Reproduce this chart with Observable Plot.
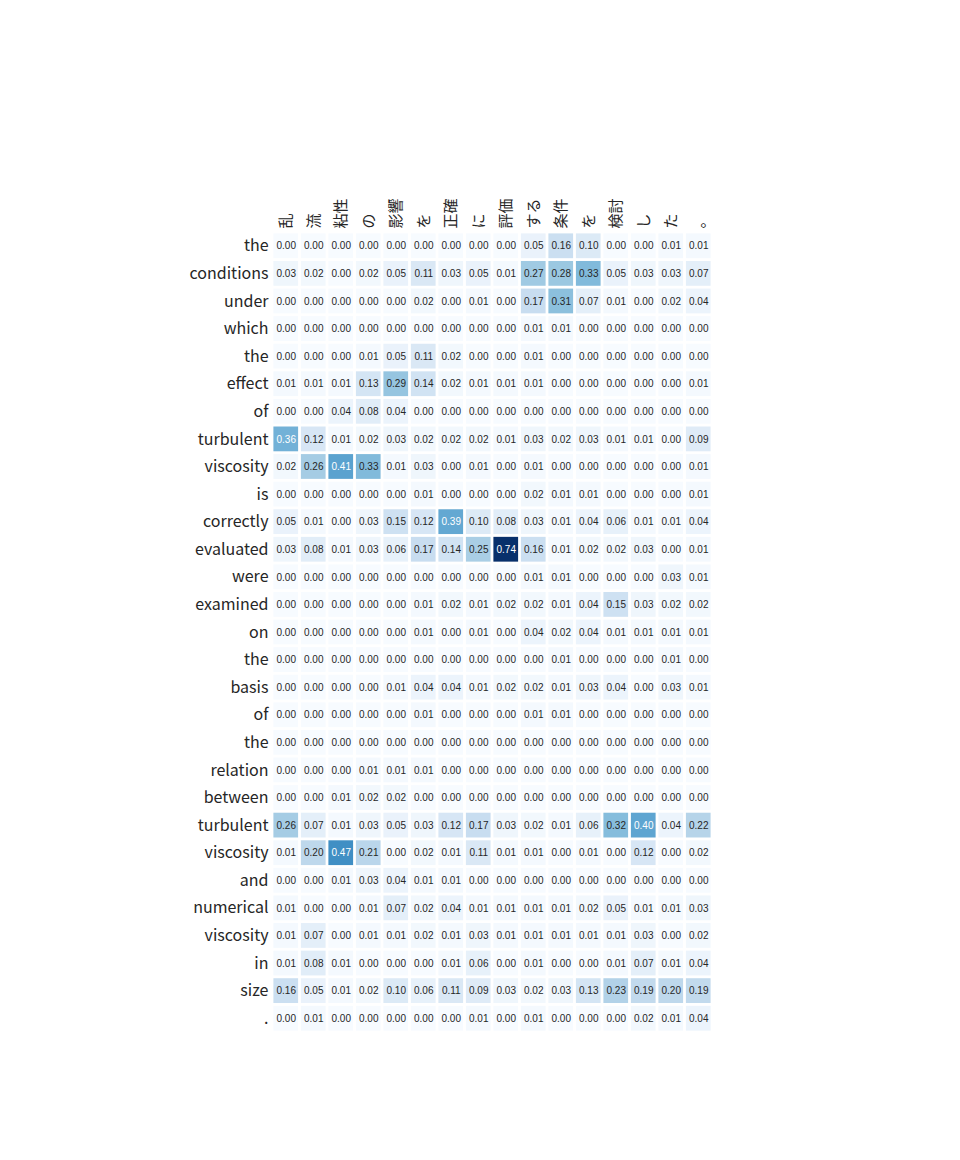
<!DOCTYPE html>
<html>
<head>
<meta charset="utf-8">
<script src="https://cdn.jsdelivr.net/npm/d3@7"></script>
<script src="https://cdn.jsdelivr.net/npm/@observablehq/plot@0.6"></script>
<style>
  html, body { margin: 0; padding: 0; background: #ffffff; }
  #chart { width: 960px; height: 1160px; }
</style>
</head>
<body>
<div id="chart"></div>
<script>
// Column tokens (Japanese)
const xLabels = ["乱", "流", "粘性", "の", "影響", "を", "正確", "に", "評価", "する", "条件", "を", "検討", "し", "た", "。"];
// Row tokens (English)
const yLabels = ["the", "conditions", "under", "which", "the", "effect", "of", "turbulent", "viscosity", "is",
  "correctly", "evaluated", "were", "examined", "on", "the", "basis", "of", "the", "relation",
  "between", "turbulent", "viscosity", "and", "numerical", "viscosity", "in", "size", "."];
// Attention weights, one row per English token
const weights = [
  [0.00,0.00,0.00,0.00,0.00,0.00,0.00,0.00,0.00,0.05,0.16,0.10,0.00,0.00,0.01,0.01],
  [0.03,0.02,0.00,0.02,0.05,0.11,0.03,0.05,0.01,0.27,0.28,0.33,0.05,0.03,0.03,0.07],
  [0.00,0.00,0.00,0.00,0.00,0.02,0.00,0.01,0.00,0.17,0.31,0.07,0.01,0.00,0.02,0.04],
  [0.00,0.00,0.00,0.00,0.00,0.00,0.00,0.00,0.00,0.01,0.01,0.00,0.00,0.00,0.00,0.00],
  [0.00,0.00,0.00,0.01,0.05,0.11,0.02,0.00,0.00,0.01,0.00,0.00,0.00,0.00,0.00,0.00],
  [0.01,0.01,0.01,0.13,0.29,0.14,0.02,0.01,0.01,0.01,0.00,0.00,0.00,0.00,0.00,0.01],
  [0.00,0.00,0.04,0.08,0.04,0.00,0.00,0.00,0.00,0.00,0.00,0.00,0.00,0.00,0.00,0.00],
  [0.36,0.12,0.01,0.02,0.03,0.02,0.02,0.02,0.01,0.03,0.02,0.03,0.01,0.01,0.00,0.09],
  [0.02,0.26,0.41,0.33,0.01,0.03,0.00,0.01,0.00,0.01,0.00,0.00,0.00,0.00,0.00,0.01],
  [0.00,0.00,0.00,0.00,0.00,0.01,0.00,0.00,0.00,0.02,0.01,0.01,0.00,0.00,0.00,0.01],
  [0.05,0.01,0.00,0.03,0.15,0.12,0.39,0.10,0.08,0.03,0.01,0.04,0.06,0.01,0.01,0.04],
  [0.03,0.08,0.01,0.03,0.06,0.17,0.14,0.25,0.74,0.16,0.01,0.02,0.02,0.03,0.00,0.01],
  [0.00,0.00,0.00,0.00,0.00,0.00,0.00,0.00,0.00,0.01,0.01,0.00,0.00,0.00,0.03,0.01],
  [0.00,0.00,0.00,0.00,0.00,0.01,0.02,0.01,0.02,0.02,0.01,0.04,0.15,0.03,0.02,0.02],
  [0.00,0.00,0.00,0.00,0.00,0.01,0.00,0.01,0.00,0.04,0.02,0.04,0.01,0.01,0.01,0.01],
  [0.00,0.00,0.00,0.00,0.00,0.00,0.00,0.00,0.00,0.00,0.01,0.00,0.00,0.00,0.01,0.00],
  [0.00,0.00,0.00,0.00,0.01,0.04,0.04,0.01,0.02,0.02,0.01,0.03,0.04,0.00,0.03,0.01],
  [0.00,0.00,0.00,0.00,0.00,0.01,0.00,0.00,0.00,0.01,0.01,0.00,0.00,0.00,0.00,0.00],
  [0.00,0.00,0.00,0.00,0.00,0.00,0.00,0.00,0.00,0.00,0.00,0.00,0.00,0.00,0.00,0.00],
  [0.00,0.00,0.00,0.01,0.01,0.01,0.00,0.00,0.00,0.00,0.00,0.00,0.00,0.00,0.00,0.00],
  [0.00,0.00,0.01,0.02,0.02,0.00,0.00,0.00,0.00,0.00,0.00,0.00,0.00,0.00,0.00,0.00],
  [0.26,0.07,0.01,0.03,0.05,0.03,0.12,0.17,0.03,0.02,0.01,0.06,0.32,0.40,0.04,0.22],
  [0.01,0.20,0.47,0.21,0.00,0.02,0.01,0.11,0.01,0.01,0.00,0.01,0.00,0.12,0.00,0.02],
  [0.00,0.00,0.01,0.03,0.04,0.01,0.01,0.00,0.00,0.00,0.00,0.00,0.00,0.00,0.00,0.00],
  [0.01,0.00,0.00,0.01,0.07,0.02,0.04,0.01,0.01,0.01,0.01,0.02,0.05,0.01,0.01,0.03],
  [0.01,0.07,0.00,0.01,0.01,0.02,0.01,0.03,0.01,0.01,0.01,0.01,0.01,0.03,0.00,0.02],
  [0.01,0.08,0.01,0.00,0.00,0.00,0.01,0.06,0.00,0.01,0.00,0.00,0.01,0.07,0.01,0.04],
  [0.16,0.05,0.01,0.02,0.10,0.06,0.11,0.09,0.03,0.02,0.03,0.13,0.23,0.19,0.20,0.19],
  [0.00,0.01,0.00,0.00,0.00,0.00,0.00,0.01,0.00,0.01,0.00,0.00,0.00,0.02,0.01,0.04]
];

const cells = [];
weights.forEach((row, r) => row.forEach((v, c) => cells.push({r, c, v})));
const vmax = d3.max(cells, d => d.v);

const labelFont = "'Noto Sans CJK JP', 'Noto Sans', sans-serif";

const chart = Plot.plot({
  width: 960,
  height: 1160,
  marginLeft: 272,
  marginRight: 248,
  marginTop: 232,
  marginBottom: 128,
  style: {background: "#ffffff", overflow: "visible"},
  x: {domain: d3.range(xLabels.length), padding: 0, round: false, axis: null},
  y: {domain: d3.range(yLabels.length), padding: 0, round: false, axis: null},
  color: {type: "linear", scheme: "blues", domain: [0, vmax]},
  marks: [
    Plot.cell(cells, {x: "c", y: "r", fill: "v", inset: 1.4}),
    Plot.text(cells, {
      x: "c", y: "r",
      text: d => d.v.toFixed(2),
      fill: d => d.v > 0.35 ? "#ffffff" : "#262626",
      fontSize: 10,
      fontFamily: "'Liberation Sans', Arial, sans-serif"
    }),
    Plot.axisX({
      anchor: "top",
      tickSize: 0,
      tickPadding: 4,
      tickRotate: -90,
      tickFormat: i => xLabels[i],
      fontSize: 15,
      fontFamily: labelFont,
      fill: "#262626",
      label: null
    }),
    Plot.axisY({
      anchor: "left",
      tickSize: 0,
      tickPadding: 4,
      tickFormat: i => yLabels[i],
      fontSize: 16,
      fontFamily: labelFont,
      fill: "#262626",
      label: null
    })
  ]
});
document.getElementById("chart").appendChild(chart);
</script>
</body>
</html>
